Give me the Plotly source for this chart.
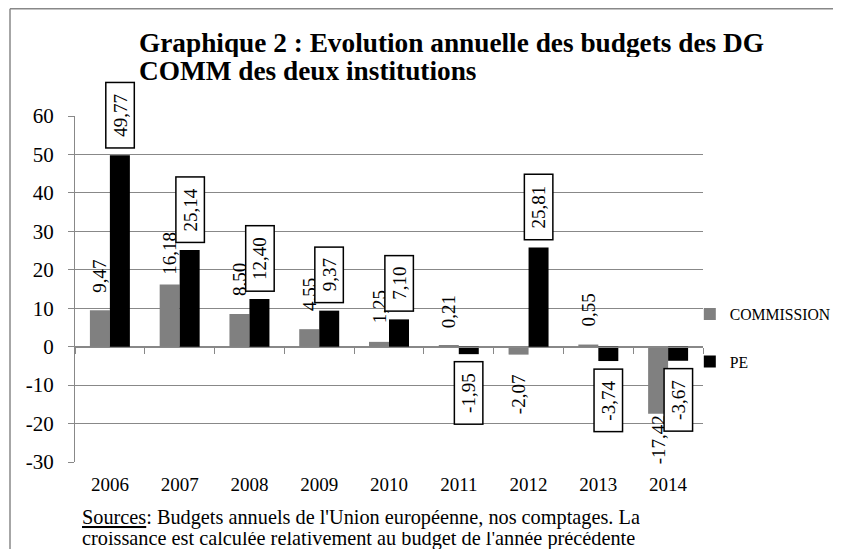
import plotly.graph_objects as go

years = ["2006", "2007", "2008", "2009", "2010", "2011", "2012", "2013", "2014"]
commission = [9.47, 16.18, 8.50, 4.55, 1.25, 0.21, -2.07, 0.55, -17.42]
pe = [49.77, 25.14, 12.40, 9.37, 7.10, -1.95, 25.81, -3.74, -3.67]
y_ticks = [-30, -20, -10, 0, 10, 20, 30, 40, 50, 60]
y_tick_labels = ["-30", "-20", "-10", "0", "10", "20", "30", "40", "50", "60"]

title_line1 = "<b>Graphique 2 : Evolution annuelle des budgets des DG</b>"
title_line2 = "<b>COMM des deux institutions</b>"
source_line1 = "<u>Sources</u>: Budgets annuels de l'Union européenne, nos comptages. La"
source_line2 = "croissance est calculée relativement au budget de l'année précédente"

FONT = "Liberation Serif"
GRID = "#888888"
BARGAP = 0.427
LABEL_SIZE = 19
# label gaps (px) between bar end and commission labels
comm_gap = [16, 8, 16, 16, 16, 16, 18, 16, 0]

def fmt(v):
    return f"{v:.2f}".replace(".", ",")

def text_len(s, size):
    w = 0.0
    for ch in s:
        if ch == ",":
            w += 0.25
        elif ch == "-":
            w += 0.333
        else:
            w += 0.5
    return w * size

xs = list(range(len(years)))
half = (1 - BARGAP) / 4

fig = go.Figure()
fig.add_trace(go.Bar(x=xs, y=commission, name="COMMISSION", marker_color="#808080",
                     marker_line_width=0, legendgroup="c"))
fig.add_trace(go.Bar(x=xs, y=pe, name="PE", marker_color="#000000",
                     marker_line_width=0, legendgroup="p"))
# empty helper trace so that the zero-level axis (x2) is drawn
fig.add_trace(go.Scatter(x=[], y=[], xaxis="x2", yaxis="y", showlegend=False,
                         hoverinfo="skip"))

annotations = []
for i, v in enumerate(commission):
    annotations.append(dict(
        x=i - half, y=v, xref="x", yref="y", text=fmt(v), showarrow=False,
        textangle=-90, font=dict(family=FONT, size=LABEL_SIZE, color="black"),
        yanchor="bottom" if v >= 0 else "top",
        yshift=comm_gap[i] if v >= 0 else -comm_gap[i]))
for i, v in enumerate(pe):
    t = fmt(v)
    annotations.append(dict(
        x=i + half, y=v, xref="x", yref="y", text=t, showarrow=False,
        textangle=-90, font=dict(family=FONT, size=LABEL_SIZE, color="black"),
        width=text_len(t, LABEL_SIZE) + 15,
        bgcolor="white", bordercolor="black", borderwidth=1.5, borderpad=3,
        yanchor="bottom" if v >= 0 else "top",
        yshift=7 if v >= 0 else -7))

annotations.append(dict(
    x=0.1, y=1.2543, xref="paper", yref="paper", text=title_line1, showarrow=False,
    xanchor="left", yanchor="top", align="left", height=28, borderpad=0,
    font=dict(family=FONT, size=27.3, color="black")))
annotations.append(dict(
    x=0.1, y=1.1734, xref="paper", yref="paper", text=title_line2, showarrow=False,
    xanchor="left", yanchor="top", align="left", height=28, borderpad=0,
    font=dict(family=FONT, size=27.3, color="black")))
annotations.append(dict(
    x=0.009, y=-0.1257, xref="paper", yref="paper", text=source_line1, showarrow=False,
    xanchor="left", yanchor="top", align="left", height=23, borderpad=0,
    font=dict(family=FONT, size=20.3, color="black")))
annotations.append(dict(
    x=0.009, y=-0.1994, xref="paper", yref="paper", text=source_line2, showarrow=False,
    xanchor="left", yanchor="top", align="left", height=18, borderpad=0,
    valign="bottom",
    font=dict(family=FONT, size=20.3, color="black")))

FRAME = dict(color="#888888", width=1.5)
fig.update_layout(
    width=825, height=541,
    margin=dict(l=67, r=130, t=108, b=87, autoexpand=False),
    paper_bgcolor="white", plot_bgcolor="white",
    barmode="group", bargap=BARGAP, bargroupgap=0,
    font=dict(family=FONT, size=18, color="black"),
    showlegend=True,
    legend=dict(x=0.979, y=0.476, xanchor="left", yanchor="top",
                font=dict(family=FONT, size=15.7, color="black"),
                tracegroupgap=24, bgcolor="rgba(0,0,0,0)"),
    annotations=annotations,
    shapes=[
        dict(type="line", xref="paper", yref="paper",
             x0=-0.1035, y0=-0.35, x1=-0.1035, y1=1.31, line=FRAME, layer="below"),
        dict(type="line", xref="paper", yref="paper",
             x0=-0.1035, y0=1.31, x1=1.3, y1=1.31, line=FRAME, layer="below"),
    ],
    xaxis=dict(range=[-0.5, len(years) - 0.5], tickvals=xs, ticktext=years,
               showgrid=False, zeroline=False, showline=False, ticks="",
               ticklabelstandoff=9,
               tickfont=dict(family=FONT, size=19)),
    xaxis2=dict(overlaying="x", matches="x", anchor="free", position=1 / 3,
                side="bottom", showline=True, linecolor=GRID, linewidth=1,
                ticks="outside", ticklen=6, tickcolor=GRID,
                tickvals=[i - 0.5 for i in range(len(years) + 1)],
                showticklabels=False, showgrid=False, zeroline=False),
    yaxis=dict(range=[-30, 60], tickvals=y_ticks, ticktext=y_tick_labels,
               showgrid=True, gridcolor=GRID, gridwidth=1, zeroline=False,
               showline=True, linecolor=GRID, linewidth=1,
               ticks="outside", ticklen=6, tickcolor=GRID,
               ticklabelstandoff=10,
               tickfont=dict(family=FONT, size=21)),
)

fig.write_html("out.html")
